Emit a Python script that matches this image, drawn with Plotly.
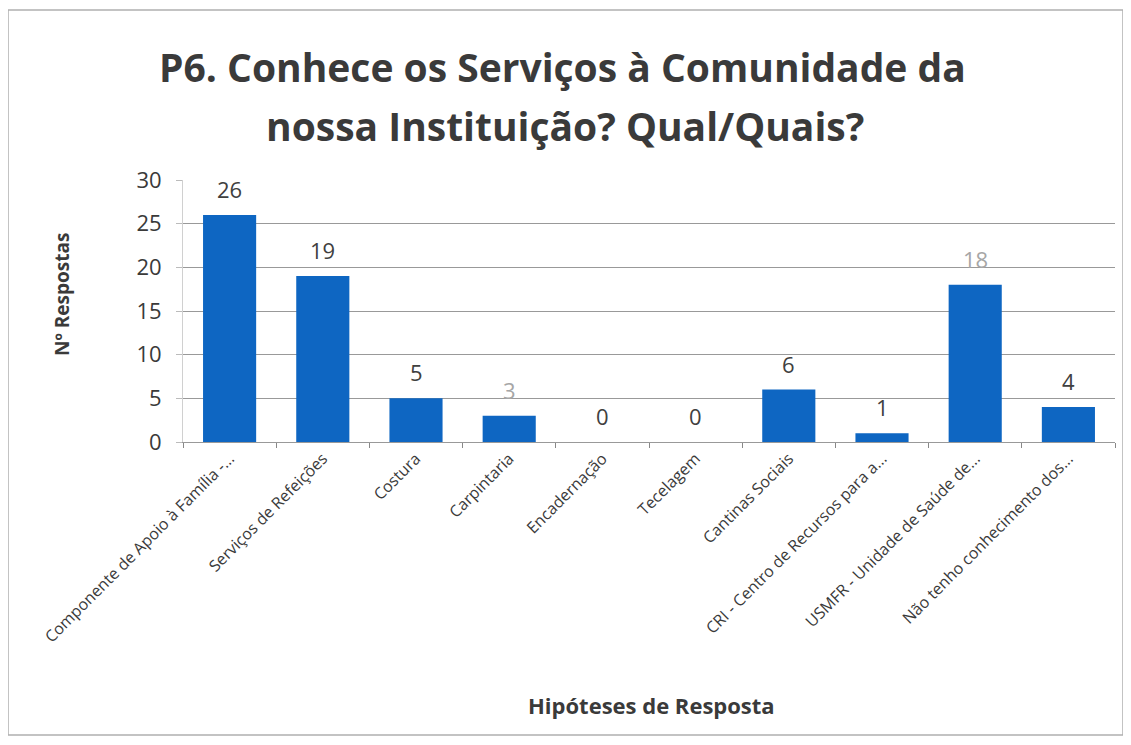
import plotly.graph_objects as go

CATEGORIES = [
    "Componente de Apoio à Família -...",
    "Serviços de Refeições",
    "Costura",
    "Carpintaria",
    "Encadernação",
    "Tecelagem",
    "Cantinas Sociais",
    "CRI - Centro de Recursos para a...",
    "USMFR - Unidade de Saúde de...",
    "Não tenho conhecimento dos...",
]
RESPOSTAS = [26, 19, 5, 3, 0, 0, 6, 1, 18, 4]
# two labels look faded in the scan
LABEL_COLORS = ["#404040", "#404040", "#404040", "#a6a6a6", "#404040",
                "#404040", "#404040", "#404040", "#a6a6a6", "#404040"]

BLUE, GRID, TEXT = "#0E66C2", "#999999", "#3a3a3a"
FONT = "Open Sans, Lato, sans-serif"

# plot area in figure px (figure is drawn 8px in from page corner)
L, T, W, H = 175, 172, 932, 262


def px(x):
    return (x - L) / W


def py(y):
    return (T + H - y) / H


fig = go.Figure(go.Bar(
    x=CATEGORIES, y=RESPOSTAS, width=0.57, marker=dict(color=BLUE, line=dict(width=0)),
    hoverinfo="x+y"))

annotations = [
    dict(x=c, y=v, text=str(v), showarrow=False, yanchor="bottom", yshift=9,
         font=dict(size=22, color=col, family=FONT))
    for c, v, col in zip(CATEGORIES, RESPOSTAS, LABEL_COLORS)
]
annotations += [
    dict(xref="paper", yref="paper", x=px(554), y=py(58), xanchor="center", yanchor="middle",
         text="<b>P6. Conhece os Serviços à Comunidade da</b>", showarrow=False,
         font=dict(size=39, color=TEXT, family=FONT)),
    dict(xref="paper", yref="paper", x=px(557), y=py(117), xanchor="center", yanchor="middle",
         text="<b>nossa Instituição? Qual/Quais?</b>", showarrow=False,
         font=dict(size=39, color=TEXT, family=FONT)),
    dict(xref="paper", yref="paper", x=px(643), y=py(697), xanchor="center", yanchor="middle",
         text="<b>Hipóteses de Resposta</b>", showarrow=False,
         font=dict(size=22, color=TEXT, family=FONT)),
    dict(xref="paper", yref="paper", x=px(54), y=py(287), xanchor="center", yanchor="middle",
         text="<b>Nº Respostas</b>", showarrow=False, textangle=-90,
         font=dict(size=19, color=TEXT, family=FONT)),
]

fig.update_layout(
    width=1123, height=737, paper_bgcolor="white", plot_bgcolor="white",
    margin=dict(l=L, r=1123 - L - W, t=T, b=737 - T - H, autoexpand=False), showlegend=False,
    font=dict(family=FONT, color=TEXT),
    xaxis=dict(tickangle=-45, tickfont=dict(size=16, color=TEXT), ticks="outside",
               tickson="boundaries", ticklen=5, tickcolor="#888", showline=True,
               linecolor="#999", automargin=False),
    yaxis=dict(range=[0, 30], dtick=5, showgrid=True, gridcolor=GRID, gridwidth=1.4,
               zeroline=False, showline=True, linecolor="#d0d0d0", ticks="outside",
               ticklen=6, tickcolor="#bbb", tickfont=dict(size=22, color=TEXT),
               ticklabelstandoff=10, automargin=False),
    bargap=0.43,
    annotations=annotations,
    shapes=[dict(type="rect", xref="paper", yref="paper",
                 x0=px(0), x1=px(1115), y0=py(727), y1=py(2),
                 line=dict(color="#b0b0b0", width=1.5))],
)

fig.write_html("out.html")
